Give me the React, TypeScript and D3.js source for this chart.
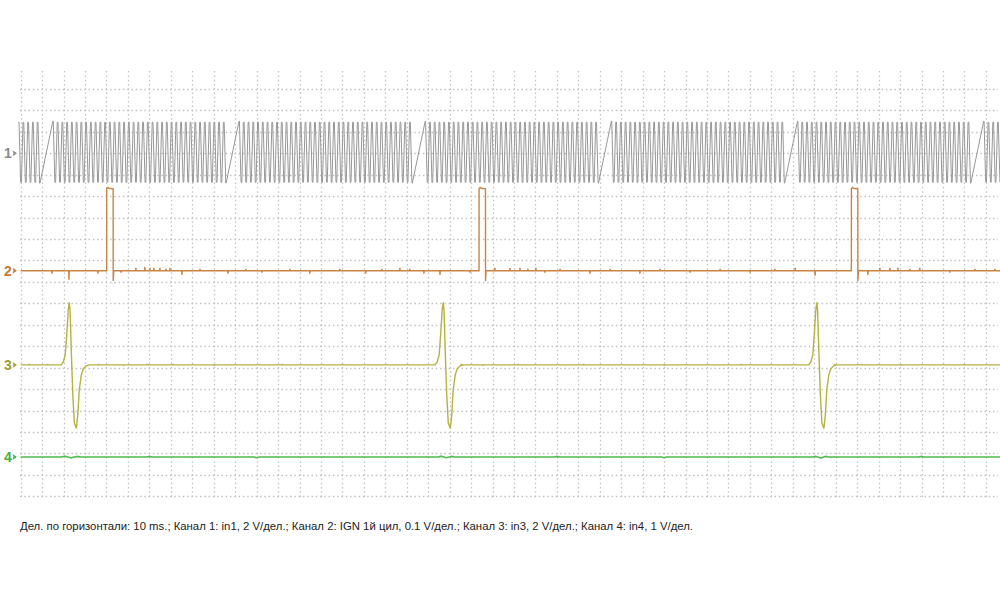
import React from 'react';
import * as d3 from 'd3';

// ---------- data ----------
const timeDomainMs = [0, 456.6];            // 10 ms per division
const gridDivsX = 45;                        // vertical grid lines 0..45
const gridDivsY = 19;                        // horizontal grid lines 0..19

// Channel 1 (in1, 2 V/div): toothed crank signal with missing-tooth gaps
const ch1GapTimesMs = [9.0, 95.8, 182.6, 269.4, 356.2, 443.0];
const ch1RampMs = [6.0];
const ch1HalfCyclesPerRev = [73];
const ch1LevelsV = [2.9, -2.7];              // high, low
const ch1OffsetDiv = [3.0];

// Channel 2 (IGN 1й цил, 0.1 V/div)
const ch2PulseStartMs = [40.1, 213.7, 387.3];
const ch2PulseWidthMs = [3.0];
const ch2PulseLevelV = [0.385];
const ch2DipV = [-0.048];
const ch2SpikeTimesMs = [14.6, 22.5, 36.0, 46.8, 53.7, 57.9, 60.3, 62.1, 64.9, 67.7, 69.6, 75.2, 83.6, 96.6, 105.0, 112.5, 125.5, 134.8, 148.8, 160.9, 168.4, 176.8, 181.4, 188.0, 195.5, 209.5, 221.1, 228.1, 232.8, 236.5, 240.2, 244.4, 251.5, 265.4, 274.8, 288.7, 298.1, 312.1, 326.1, 340.1, 351.7, 361.1, 370.4, 395.0, 400.6, 405.3, 409.0, 414.6, 419.2, 433.2, 444.9, 454.2];
const ch2SpikeV = [-0.014, -0.042, -0.014, -0.009, 0.014, 0.019, 0.014, 0.014, 0.014, 0.009, 0.014, -0.019, 0.009, -0.014, 0.009, -0.009, 0.009, -0.014, 0.009, -0.014, 0.009, 0.014, 0.009, -0.014, -0.019, -0.009, 0.014, 0.014, 0.014, 0.009, 0.014, -0.009, 0.009, -0.014, 0.009, -0.014, 0.009, -0.009, 0.009, -0.009, 0.009, 0.014, -0.023, -0.019, 0.014, 0.014, 0.014, 0.009, 0.014, -0.009, 0.009, 0.009];
const ch2OffsetDiv = [8.48];

// Channel 3 (in3, 2 V/div): inductive pulse, shape relative to its peak
const ch3PeakTimesMs = [22.66, 197.0, 371.2];
const ch3ShapeDtMs = [-3.8, -2.8, -1.9, -1.2, -0.5, 0, 0.35, 0.7, 1.15, 1.65, 2.35, 3.3, 3.95, 4.65, 5.6, 6.5, 7.9, 9.3];
const ch3ShapeV = [0, 0.28, 0.93, 2.8, 5.1, 5.84, 5.1, 2.8, 0, -2.8, -5.4, -5.93, -4.7, -2.3, -0.93, -0.37, -0.09, 0];
const ch3TickTimesMs = [4.0, 12.5, 36.4, 48.0, 58.8, 71.0, 90.2, 122.0, 150.0, 205.4, 215.5, 232.0, 262.5, 300.0, 336.0, 379.6, 392.0, 410.5, 440.0];
const ch3TickV = [0.09, 0.09, 0.09, -0.09, 0.09, 0.09, -0.09, 0.09, 0.09, 0.09, -0.09, 0.09, 0.09, -0.09, 0.09, 0.09, 0.09, -0.09, 0.09];
const ch3OffsetDiv = [12.87];

// Channel 4 (in4, 1 V/div): nearly flat
const ch4BumpTimesMs = [20.5, 23.5, 26.5, 60.0, 110.0, 196.0, 198.5, 201.0, 250.0, 300.0, 370.5, 373.0, 375.5, 420.0];
const ch4BumpV = [0.05, -0.04, 0.03, 0.03, -0.03, 0.04, -0.03, 0.03, 0.03, -0.03, 0.03, -0.05, 0.03, 0.03];
const ch4OffsetDiv = [17.17];

const channelLabels = ['1', '2', '3', '4'];
const channelVoltsPerDiv = [2, 0.1, 2, 1];
const footerText = 'Дел. по горизонтали: 10 ms.; Канал 1: in1, 2 V/дел.; Канал 2: IGN 1й цил, 0.1 V/дел.; Канал 3: in3, 2 V/дел.; Канал 4: in4, 1 V/дел.';

// ---------- layout ----------
const W = 1000, H = 606;
const X0 = 20.7, X1 = 1000;
const Y0 = 89, Y1 = 496.3;
const colors = {
  grid: '#c2c2c2',
  ch1: '#989898', ch1Label: '#8a8a8a',
  ch2: '#c98544', ch2Label: '#c77a35',
  ch3: '#b3b243', ch3Label: '#a09e2a',
  ch4: '#4cbc4c', ch4Label: '#3fb43f',
};

type Pt = [number, number];

export default function App() {
  const x = d3.scaleLinear().domain(timeDomainMs).range([X0, X1]);
  const yDiv = d3.scaleLinear().domain([0, gridDivsY]).range([Y0, Y1]);
  const divPx = (Y1 - Y0) / gridDivsY;

  const chY = (offsetDiv: number, vpd: number) => (v: number) => yDiv(offsetDiv - v / vpd);
  const y1 = chY(ch1OffsetDiv[0], channelVoltsPerDiv[0]);
  const y2 = chY(ch2OffsetDiv[0], channelVoltsPerDiv[1]);
  const y3 = chY(ch3OffsetDiv[0], channelVoltsPerDiv[2]);
  const y4 = chY(ch4OffsetDiv[0], channelVoltsPerDiv[3]);

  // channel 1
  const [hi, lo] = ch1LevelsV;
  const nHalf = ch1HalfCyclesPerRev[0];
  const halfP = (ch1GapTimesMs[1] - ch1GapTimesMs[0] - ch1RampMs[0]) / nHalf;
  const f = 0.16 * halfP;
  const ch1: Pt[] = [];
  const pushExt = (t: number, v: number) => { ch1.push([t - f, v], [t + f, v]); };
  {
    const g = ch1GapTimesMs[0];
    const ts: number[] = [];
    let k = 0;
    while (g - k * halfP >= timeDomainMs[0] - halfP) { ts.unshift(g - k * halfP); k++; }
    ts.forEach((t, i) => {
      const fromEnd = ts.length - 1 - i;
      if (fromEnd === 0) ch1.push([t - f, lo - 0.08], [t, lo - 0.08]);
      else pushExt(t, fromEnd % 2 === 0 ? lo : hi);
    });
  }
  ch1GapTimesMs.forEach((g, gi) => {
    const rampEnd = g + ch1RampMs[0];
    const last = gi + 1 < ch1GapTimesMs.length;
    const maxI = last ? nHalf : Math.ceil((timeDomainMs[1] + 2 - rampEnd) / halfP);
    for (let i = 0; i <= maxI; i++) {
      const t = rampEnd + i * halfP;
      const v = i % 2 === 0 ? (i === 0 ? hi + 0.1 : hi) : lo;
      if (i === 0) ch1.push([t, v], [t + f, v]);
      else if (last && i === nHalf) ch1.push([t - f, lo - 0.08], [t, lo - 0.08]);
      else pushExt(t, v);
    }
  });
  const line = d3.line<Pt>().x(d => x(d[0]));

  // channel 2
  const ch2Events: { t: number; pts: Pt[] }[] = [];
  ch2SpikeTimesMs.forEach((t, i) => ch2Events.push({ t, pts: [[t - 0.12, 0], [t, ch2SpikeV[i]], [t + 0.12, 0]] }));
  ch2PulseStartMs.forEach(t => {
    const w = ch2PulseWidthMs[0], L = ch2PulseLevelV[0];
    ch2Events.push({ t, pts: [[t, 0], [t + 0.02, L], [t + 0.6, L + 0.004], [t + 0.9, L], [t + w, L - 0.003], [t + w + 0.03, ch2DipV[0]], [t + w + 0.3, 0]] });
  });
  ch2Events.sort((a, b) => a.t - b.t);
  const ch2: Pt[] = [[timeDomainMs[0], 0]];
  ch2Events.forEach(e => ch2.push(...e.pts));
  ch2.push([timeDomainMs[1] + 2, 0]);

  // channel 3
  const ch3Events: { t: number; pts: Pt[] }[] = [];
  ch3PeakTimesMs.forEach(tp => ch3Events.push({ t: tp + ch3ShapeDtMs[0], pts: ch3ShapeDtMs.map((d, i) => [tp + d, ch3ShapeV[i]] as Pt) }));
  ch3TickTimesMs.forEach((t, i) => ch3Events.push({ t, pts: [[t - 0.1, 0], [t, ch3TickV[i]], [t + 0.1, 0]] }));
  ch3Events.sort((a, b) => a.t - b.t);
  const ch3: Pt[] = [[timeDomainMs[0], 0]];
  ch3Events.forEach(e => ch3.push(...e.pts));
  ch3.push([timeDomainMs[1] + 2, 0]);

  // channel 4
  const ch4: Pt[] = [[timeDomainMs[0], 0]];
  ch4BumpTimesMs.forEach((t, i) => ch4.push([t - 1.2, 0], [t, ch4BumpV[i]], [t + 1.2, 0]));
  ch4.push([timeDomainMs[1] + 2, 0]);

  const dash = `1.5 ${(divPx / 5 - 1.5).toFixed(3)}`;
  const vLines = d3.range(0, gridDivsX + 1).map(i => x(i * 10));
  const hLines = d3.range(0, gridDivsY + 1).map(i => yDiv(i));
  const vTop = Y0 - 4 * (divPx / 5);

  const labelY = [ch1OffsetDiv[0], ch2OffsetDiv[0], ch3OffsetDiv[0], ch4OffsetDiv[0]].map(d => yDiv(d));
  const labelColors = [colors.ch1Label, colors.ch2Label, colors.ch3Label, colors.ch4Label];

  return (
    <svg width={W} height={H} style={{ position: 'fixed', left: 0, top: 0, background: '#fff' }}
      fontFamily="'Liberation Sans', Arial, sans-serif">
      <rect width={W} height={H} fill="#fff" />
      <g>
        {vLines.map((vx, i) => (
          <line key={'v' + i} x1={Math.round(vx) + 0.5} x2={Math.round(vx) + 0.5} y1={vTop - 0.75} y2={Y1 + 1}
            stroke={colors.grid} strokeWidth={1.3} strokeDasharray={dash} />
        ))}
        {hLines.map((hy, i) => (
          <line key={'h' + i} x1={X0 - 0.75} x2={998} y1={Math.round(hy) + 0.5} y2={Math.round(hy) + 0.5}
            stroke={colors.grid} strokeWidth={1.3} strokeDasharray={dash} />
        ))}
      </g>
      <path d={line.y(d => y1(d[1]))(ch1) || ''} fill="none" stroke={colors.ch1} strokeWidth={1} />
      <path d={line.y(d => y2(d[1]))(ch2) || ''} fill="none" stroke={colors.ch2} strokeWidth={1.4} />
      <path d={line.y(d => y3(d[1]))(ch3) || ''} fill="none" stroke={colors.ch3} strokeWidth={1.4} />
      <path d={line.y(d => y4(d[1]))(ch4) || ''} fill="none" stroke={colors.ch4} strokeWidth={1.6} />
      {channelLabels.map((lab, i) => (
        <g key={'l' + i} fill={labelColors[i]}>
          <text x={4} y={labelY[i] + 5} fontSize={14} fontWeight="bold">{lab}</text>
          <path d={`M${12.5},${labelY[i] - 3} L${17},${labelY[i]} L${12.5},${labelY[i] + 3} L${13.5},${labelY[i]} Z`} />
        </g>
      ))}
      <text x={20} y={530} fontSize={11} fill="#222" textLength={673} lengthAdjust="spacingAndGlyphs">{footerText}</text>
    </svg>
  );
}
